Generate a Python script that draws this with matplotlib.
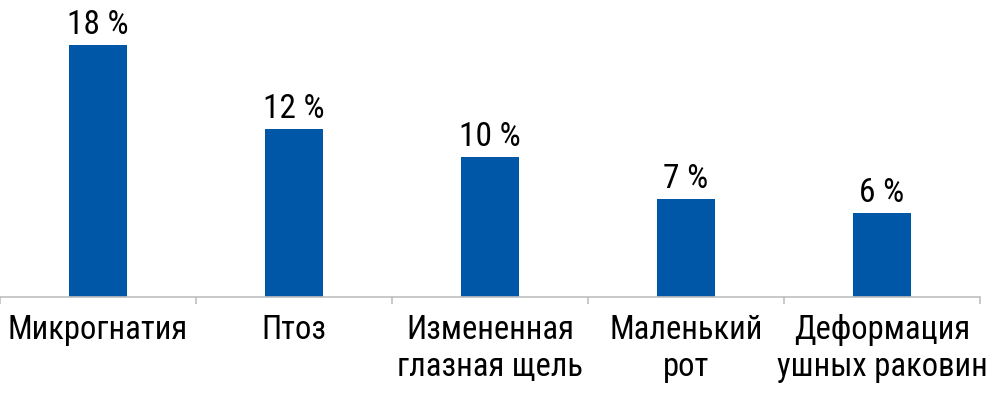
import matplotlib
matplotlib.use("Agg")
import matplotlib.pyplot as plt
from matplotlib import font_manager

# Данные
categories = ["Микрогнатия", "Птоз", "Измененная\nглазная щель", "Маленький\nрот", "Деформация\nушных раковин"]
values = [18, 12, 10, 7, 6]
value_labels = ["18 %", "12 %", "10 %", "7 %", "6 %"]

names = {f.name for f in font_manager.fontManager.ttflist}
fam, fs = "DejaVu Sans", 18
for cand in ["Roboto Condensed", "PT Sans Narrow", "Open Sans Condensed", "Liberation Sans Narrow"]:
    if cand in names:
        fam, fs = cand, 23.5
        break
plt.rcParams["font.family"] = [fam, "DejaVu Sans"]

fig = plt.figure(figsize=(9.91, 3.93), dpi=100)
ax = fig.add_axes([0, 96/393, 980/991, 294/393])

x = list(range(len(categories)))
ax.bar(x, values, width=0.30, color="#0057A8")
for xi, v, lab in zip(x, values, value_labels):
    ax.text(xi, v + 0.25, lab, ha="center", va="bottom", fontsize=fs + 0.5, color="black")

ax.set_xlim(-0.5, len(categories) - 0.5)
ax.set_ylim(0, 21)
ax.set_yticks([])
for s in ["top", "right", "left"]:
    ax.spines[s].set_visible(False)
ax.spines["bottom"].set_color("#BFBFBF")
ax.spines["bottom"].set_linewidth(1.2)

ax.set_xticks([i - 0.5 for i in range(len(categories) + 1)], minor=False)
ax.set_xticklabels([])
ax.tick_params(axis="x", which="major", length=5, color="#BFBFBF", width=1.2)
ax.set_xticks(x, minor=True)
ax.set_xticklabels(categories, minor=True, fontsize=fs, linespacing=1.2)
ax.tick_params(axis="x", which="minor", length=0, pad=12)

fig.savefig("out.png", dpi=100)
